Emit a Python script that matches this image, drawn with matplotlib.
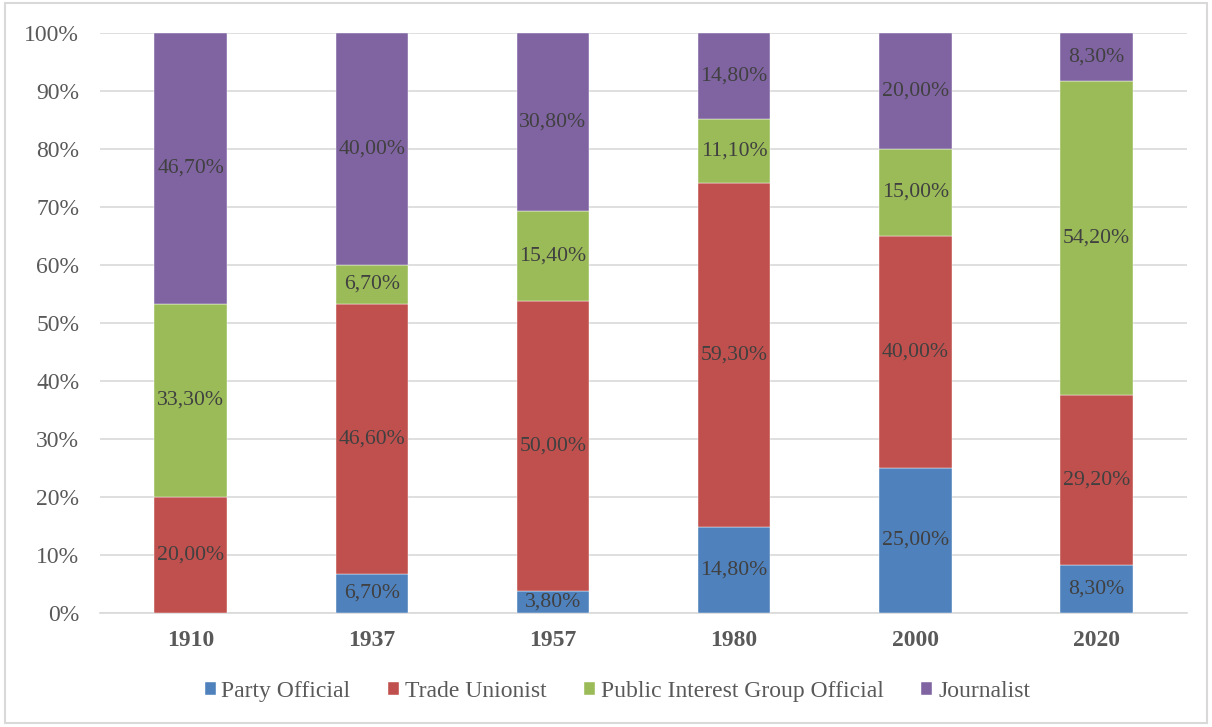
import numpy as np
import matplotlib.pyplot as plt
from matplotlib.patches import Rectangle

plt.rcParams['font.family'] = ['Liberation Serif', 'DejaVu Serif']

# data (percent)
years = ['1910', '1937', '1957', '1980', '2000', '2020']
party = [0.0, 6.7, 3.8, 14.8, 25.0, 8.3]
union = [20.0, 46.6, 50.0, 59.3, 40.0, 29.2]
interest = [33.3, 6.7, 15.4, 11.1, 15.0, 54.2]
journalist = [46.7, 40.0, 30.8, 14.8, 20.0, 8.3]

names = ['Party Official', 'Trade Unionist', 'Public Interest Group Official', 'Journalist']
colors = ['#4F81BD', '#C0504D', '#9BBB59', '#8064A2']
series = [party, union, interest, journalist]

fig = plt.figure(figsize=(12.12, 7.27), dpi=100)
ax = fig.add_axes([0.0825, 0.157, 0.897, 0.798])

# light frame around the whole chart
fig.patches.append(Rectangle((0.004, 0.006), 0.992, 0.99, transform=fig.transFigure,
                             fill=False, edgecolor='#D9D9D9', linewidth=1.5))

x = np.arange(len(years))
bottom = np.zeros(len(years))
for vals, name, col in zip(series, names, colors):
    vals = np.array(vals)
    ax.bar(x, vals, 0.4, bottom=bottom, color=col, label=name,
           edgecolor='white', linewidth=0.3, zorder=3)
    for xi, b, v in zip(x, bottom, vals):
        if v > 0:
            ax.text(xi, b + v / 2, f'{v:.2f}%'.replace('.', ','), ha='center', va='center',
                    fontsize=15.7, color='#404040', zorder=4)
    bottom += vals

ax.set_ylim(0, 100)
ax.set_xlim(-0.5, len(years) - 0.5)
ax.set_yticks(np.arange(0, 101, 10))
ax.set_yticklabels([f'{t}%' for t in range(0, 101, 10)])
ax.set_xticks(x)
ax.set_xticklabels(years, fontweight='bold')
ax.tick_params(axis='y', length=0, labelsize=17, labelcolor='#595959', pad=15)
ax.tick_params(axis='x', length=0, labelsize=17, labelcolor='#595959', pad=12)
ax.grid(axis='y', color='#D9D9D9', linewidth=1.2, zorder=0)
for s in ['top', 'right', 'left']:
    ax.spines[s].set_visible(False)
ax.spines['bottom'].set_color('#D9D9D9')
ax.spines['bottom'].set_linewidth(1.2)

ax.legend(loc='center', bbox_to_anchor=(0.476, -0.135), ncol=4, frameon=False,
          fontsize=17, labelcolor='#595959', handlelength=0.45, handleheight=0.45,
          handletextpad=0.25, columnspacing=1.6)

fig.savefig('out.png', dpi=100)
